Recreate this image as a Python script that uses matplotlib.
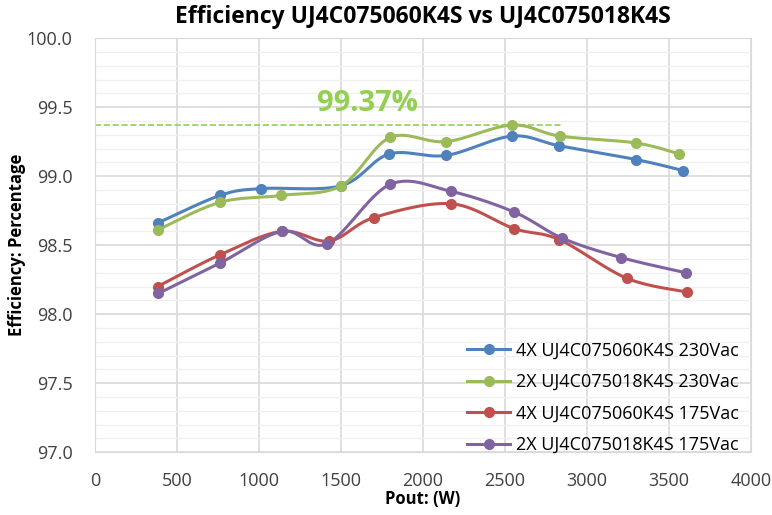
import numpy as np
import matplotlib
matplotlib.use("Agg")
import matplotlib.pyplot as plt
from matplotlib.ticker import MultipleLocator

# data
pout_blue = [382, 762, 1012, 1500, 1793, 2140, 2541, 2831, 3299, 3587]
eff_blue = [98.66, 98.86, 98.91, 98.93, 99.16, 99.15, 99.29, 99.22, 99.12, 99.04]

pout_green = [382, 762, 1134, 1500, 1799, 2140, 2541, 2835, 3299, 3563]
eff_green = [98.61, 98.81, 98.86, 98.93, 99.28, 99.25, 99.37, 99.29, 99.24, 99.16]

pout_red = [382, 762, 1138, 1429, 1701, 2171, 2555, 2831, 3242, 3608]
eff_red = [98.20, 98.43, 98.60, 98.53, 98.70, 98.80, 98.62, 98.54, 98.26, 98.16]

pout_purple = [386, 762, 1142, 1415, 1799, 2169, 2555, 2849, 3207, 3602]
eff_purple = [98.15, 98.37, 98.60, 98.51, 98.94, 98.89, 98.74, 98.55, 98.41, 98.30]

labels = ["4X UJ4C075060K4S 230Vac", "2X UJ4C075018K4S 230Vac",
          "4X UJ4C075060K4S 175Vac", "2X UJ4C075018K4S 175Vac"]
colors = ["#4F81BD", "#9BBB59", "#C0504D", "#8064A2"]

peak_value = 99.37
peak_label = "99.37%"


def smooth(x, y, n=30):
    # Excel-like smoothed line: cubic bezier with Catmull-Rom control points
    x = np.asarray(x, float)
    y = np.asarray(y, float)
    px = np.concatenate([[x[0]], x, [x[-1]]])
    py = np.concatenate([[y[0]], y, [y[-1]]])
    xs, ys = [], []
    t = np.linspace(0, 1, n)
    for i in range(1, len(px) - 2):
        p0 = np.array([px[i], py[i]])
        p3 = np.array([px[i + 1], py[i + 1]])
        p1 = p0 + (np.array([px[i + 1], py[i + 1]]) - np.array([px[i - 1], py[i - 1]])) / 6
        p2 = p3 - (np.array([px[i + 2], py[i + 2]]) - np.array([px[i], py[i]])) / 6
        b = ((1 - t) ** 3)[:, None] * p0 + (3 * (1 - t) ** 2 * t)[:, None] * p1 \
            + (3 * (1 - t) * t ** 2)[:, None] * p2 + (t ** 3)[:, None] * p3
        xs.extend(b[:, 0])
        ys.extend(b[:, 1])
    return xs, ys


plt.rcParams['font.family'] = ['Open Sans', 'DejaVu Sans']

fig = plt.figure(figsize=(7.72, 5.15), dpi=100)
ax = fig.add_axes([0.123, 0.122, 0.85, 0.804])

series = [(pout_blue, eff_blue), (pout_green, eff_green),
          (pout_red, eff_red), (pout_purple, eff_purple)]
for (x, y), c, lab in zip(series, colors, labels):
    sx, sy = smooth(x, y)
    ax.plot(sx, sy, color=c, lw=2.2, zorder=3)
    ax.plot(x, y, "o", color=c, ms=7, zorder=4)
    ax.plot([], [], "-o", color=c, lw=2.2, ms=7, label=lab)

ax.plot([0, 2854], [peak_value, peak_value], "--", color="#92D050", lw=1.2, zorder=2)
ax.text(1660, 99.42, peak_label, color="#92D050", fontsize=21, fontweight="bold",
        ha="center", va="bottom")

ax.set_xlim(0, 4000)
ax.set_ylim(97.0, 100.0)
ax.xaxis.set_major_locator(MultipleLocator(500))
ax.yaxis.set_major_locator(MultipleLocator(0.5))
ax.yaxis.set_minor_locator(MultipleLocator(0.1))
ax.yaxis.set_major_formatter(matplotlib.ticker.FormatStrFormatter("%.1f"))
ax.grid(which="major", color="#D9D9D9", lw=1.2, zorder=0)
ax.grid(which="minor", axis="y", color="#F0F0F0", lw=1.0, zorder=0)
ax.set_axisbelow(True)
ax.tick_params(which="both", length=0, labelsize=13, colors="#404040")
ax.tick_params(axis="y", pad=16)
ax.tick_params(axis="x", pad=14)
for s in ax.spines.values():
    s.set_color("#D9D9D9")

ax.set_title("Efficiency UJ4C075060K4S vs UJ4C075018K4S", fontsize=16.5,
             fontweight="bold", pad=11)
ax.set_xlabel("Pout: (W)", fontsize=12, fontweight="bold", labelpad=0)
ax.set_ylabel("Efficiency: Percentage", fontsize=12, fontweight="bold", labelpad=0.5)

ax.legend(loc="lower right", frameon=False, fontsize=13, handlelength=2.4,
          handletextpad=0.3, labelspacing=0.75, bbox_to_anchor=(1.0, -0.035),
          borderaxespad=0.3)

fig.savefig("out.png", dpi=100)
